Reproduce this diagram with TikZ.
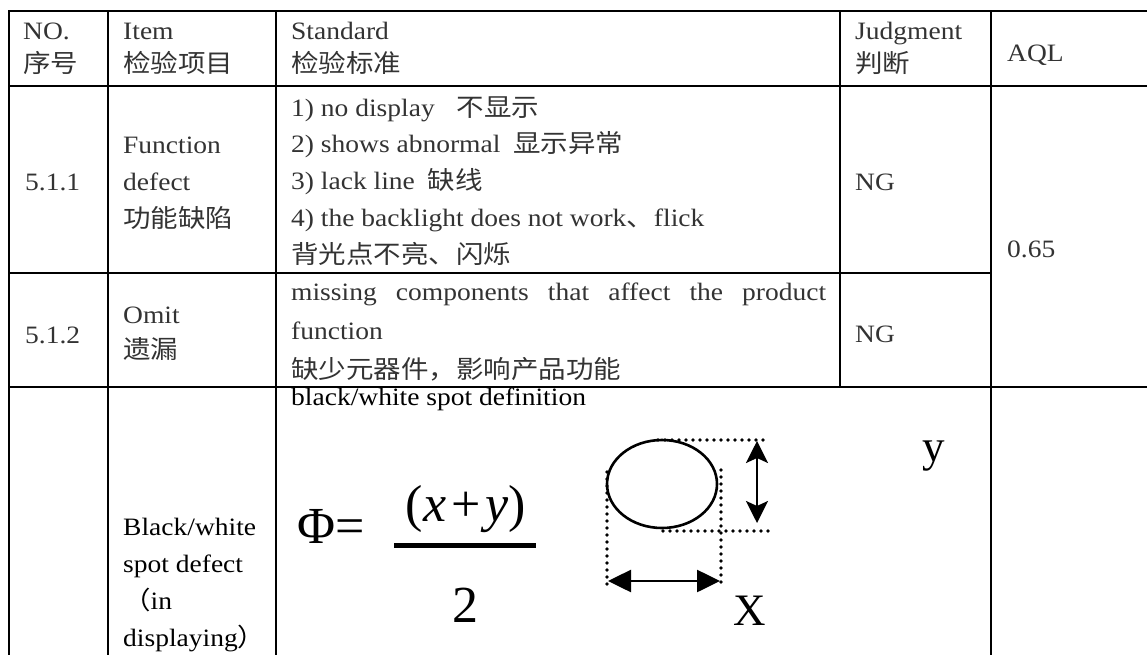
\documentclass[tikz,border=0pt]{standalone}
\usepackage{fontspec}
\setmainfont{Liberation Serif}[FakeStretch=1.1]
\newfontfamily\cjk{Noto Sans CJK SC}[FakeStretch=1.1]
\newfontfamily\formulafont{Liberation Serif}
\usetikzlibrary{arrows.meta,positioning}

\begin{document}
\begin{tikzpicture}[x=1pt,y=-1pt]

\tikzset{rule/.style={line width=2.6pt, line cap=rect},
cell/.style={anchor=base west, inner sep=0pt, align=left, text=black!80, font=\fontsize{25}{36.75}\selectfont},
head/.style={cell, font=\fontsize{25}{33}\selectfont},
formula/.style={inner sep=0pt, font=\formulafont\fontsize{52}{52}\selectfont},
axislab/.style={anchor=base, inner sep=0pt, font=\formulafont\fontsize{45}{45}\selectfont},
dotline/.style={line width=3.6pt, line cap=round, dash pattern=on 0pt off 7pt},
spotline/.style={line width=2.6pt}}

\useasboundingbox (0,0) rectangle (1147,655);

% table rules
\foreach \y in {11,86,387}
  \draw[rule] (9,\y) -- (1147,\y);
\draw[rule] (9,273) -- (991,273);
\foreach \x in {9,108,276,991}
  \draw[rule] (\x,11) -- (\x,655);
\draw[rule] (840,11) -- (840,387);

% header (multi-line nodes sit on their last line)
\node[head] (no) at (23,73) {NO.\\{\cjk 序号}};
\node[head] (item) at (123,73) {Item\\{\cjk 检验项目}};
\node[head] (std) at (291,73) {Standard\\{\cjk 检验标准}};
\node[head] (judge) at (855,73) {Judgment\\{\cjk 判断}};
\node[cell] (aql) at (1007,62) {AQL};

% 5.1.1
\node[cell] (n511) at (25,190) {5.1.1};
\node[cell] (i511) at (123,227) {Function\\defect\\{\cjk 功能缺陷}};
\node[cell] (s511) at (291,263) {1) no display\hspace{22pt}{\cjk 不显示}\\
  2) shows abnormal\hspace{13pt}{\cjk 显示异常}\\
  3) lack line\hspace{13pt}{\cjk 缺线}\\
  4) the backlight does not work{\cjk 、}flick\\
  {\cjk 背光点不亮、闪烁}};
\node[cell] (j511) at (855,190) {NG};
\node[cell] (q511) at (1007,257) {0.65};

% 5.1.2
\node[cell] (n512) at (25,343) {5.1.2};
\node[cell, font=\fontsize{25}{35}\selectfont] (i512) at (123,358) {Omit\\{\cjk 遗漏}};
\node[cell, font=\fontsize{25}{39}\selectfont] (s512) at (291,378)
  {\makebox[535pt][s]{missing components that affect the product}\\function\\{\cjk 缺少元器件，影响产品功能}};
\node[cell] (j512) at (855,342) {NG};

% black/white spot
\node[cell, text=black] (s513) at (291,405) {black/white spot definition};
\node[cell, text=black] (i513) at (123,646) {Black/white\\spot defect\\{\cjk （}in\\displaying{\cjk ）}};

%formula
\node[formula, anchor=base west] (phi) at (297,543) {Φ=};
\node[formula, anchor=base] (numer) at (466,521) {(\textit{x}\hspace{5pt}+\hspace{5pt}\textit{y})};
\draw[line width=5pt] (394,545) -- (536,545);
\node[formula, anchor=base] (denom) at (465,622) {2};

% spot sketch
\draw[spotline] (662,484) ellipse [x radius=55, y radius=44];
\draw[dotline] (658,440) -- (768,440);
\draw[dotline] (663,531) -- (773,531);
\draw[dotline] (607,472) -- (607,588);
\draw[dotline] (721,470) -- (721,588);
\draw[spotline, {Stealth[length=22pt,width=22pt,inset=5pt]}-{Stealth[length=22pt,width=22pt,inset=5pt]}] (757,441) -- (757,523);
\draw[spotline, {Triangle[length=23pt,width=22pt]}-{Triangle[length=23pt,width=22pt]}] (608,581) -- (720,581);
\node[axislab] (xlab) at (750,625) {X};
\node[axislab] (ylab) at (934,461) {y};

\end{tikzpicture}
\end{document}
